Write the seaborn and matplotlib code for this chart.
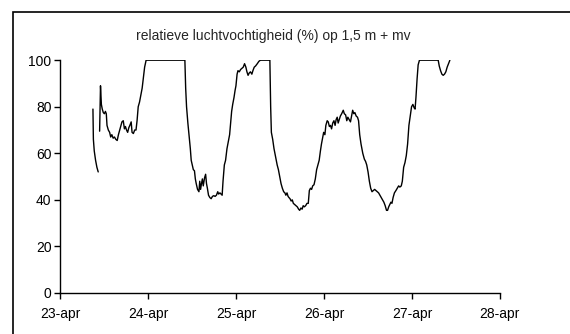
import numpy as np
import pandas as pd
import matplotlib
matplotlib.use("Agg")
import matplotlib.pyplot as plt
import matplotlib.patches as mpatches
import seaborn as sns

# Relative humidity (%) at 1.5 m above ground level.
# Time is given in days since 23 April 00:00.
seg1_days = [0.370, 0.375, 0.385, 0.400, 0.415, 0.430]
seg1_rh = [79, 66, 61, 57, 54, 52]

seg2_days = [
    0.446, 0.456, 0.466, 0.476, 0.488, 0.500, 0.512, 0.522, 0.530, 0.545,
    0.560, 0.572, 0.585, 0.600, 0.615, 0.630, 0.646, 0.660, 0.675, 0.690,
    0.700, 0.715, 0.728, 0.740, 0.752, 0.765, 0.778, 0.790, 0.805, 0.815,
    0.830, 0.845, 0.860, 0.872, 0.885, 0.900, 0.915, 0.930, 0.945, 0.958,
    0.975, 1.416, 1.425, 1.435, 1.450, 1.465, 1.478, 1.488, 1.500, 1.512,
    1.525, 1.535, 1.545, 1.560, 1.576, 1.585, 1.595, 1.605, 1.615, 1.625,
    1.640, 1.652, 1.662, 1.672, 1.685, 1.700, 1.715, 1.730, 1.745, 1.760,
    1.775, 1.790, 1.800, 1.815, 1.828, 1.840, 1.850, 1.865, 1.879, 1.895,
    1.910, 1.925, 1.948, 1.960, 1.975, 1.987, 1.997, 2.010, 2.020, 2.035,
    2.050, 2.065, 2.080, 2.095, 2.110, 2.122, 2.135, 2.148, 2.162, 2.178,
    2.190, 2.205, 2.220, 2.240, 2.258, 2.275, 2.296, 2.383, 2.392, 2.400,
    2.415, 2.430, 2.445, 2.466, 2.480, 2.495, 2.510, 2.525, 2.540, 2.554,
    2.565, 2.578, 2.590, 2.600, 2.612, 2.625, 2.638, 2.650, 2.665, 2.680,
    2.695, 2.710, 2.722, 2.736, 2.750, 2.762, 2.775, 2.790, 2.805, 2.820,
    2.832, 2.845, 2.858, 2.870, 2.885, 2.900, 2.915, 2.930, 2.944, 2.958,
    2.970, 2.985, 2.995, 3.009, 3.020, 3.035, 3.047, 3.060, 3.072, 3.085,
    3.098, 3.112, 3.125, 3.137, 3.149, 3.160, 3.172, 3.185, 3.200, 3.218,
    3.230, 3.245, 3.258, 3.270, 3.285, 3.300, 3.312, 3.325, 3.338, 3.350,
    3.365, 3.380, 3.392, 3.405, 3.420, 3.440, 3.458, 3.472, 3.485, 3.500,
    3.515, 3.530, 3.545, 3.560, 3.575, 3.590, 3.605, 3.620, 3.635, 3.650,
    3.665, 3.680, 3.695, 3.710, 3.722, 3.735, 3.748, 3.760, 3.772, 3.785,
    3.800, 3.817, 3.832, 3.848, 3.862, 3.878, 3.890, 3.905, 3.920, 3.935,
    3.950, 3.965, 3.980, 3.995, 4.010, 4.025, 4.035, 4.045, 4.058, 4.070,
    4.085, 4.298, 4.310, 4.325, 4.340, 4.355, 4.370, 4.385, 4.400, 4.415,
    4.431,
]
seg2_rh = [
    69.5, 89, 81, 79, 77.5, 77, 78, 77, 72, 70,
    69, 67, 68, 66.5, 67, 66, 65.5, 68, 70, 72,
    73.5, 74, 70.5, 71.5, 70, 69, 71, 72, 73.5, 69,
    68.5, 70, 70, 74, 80, 82, 85, 88, 93, 97,
    100, 100, 88, 80, 73, 67, 62, 57, 55, 53,
    52.5, 49, 47, 44.5, 43.5, 48, 44.5, 47, 49, 46,
    49.5, 51, 47, 45, 42, 41, 40.5, 41.5, 41.8, 41.5,
    42, 43.5, 42.5, 43, 42.5, 42, 48, 55, 57, 62,
    65, 68, 78, 81, 84, 87, 89, 94, 95.5, 95,
    96, 96.5, 97, 98.5, 97, 95, 93.5, 94.5, 95, 94,
    95.5, 97, 97.5, 98.5, 99.5, 100, 100, 100, 80, 69,
    66, 62, 59, 55, 53, 50, 47, 45, 43.5, 43,
    42, 43, 41.5, 41, 40.5, 39.5, 40, 38.5, 38, 37.5,
    37, 36, 35.5, 36.5, 36, 37.5, 37, 37.5, 38.5, 38.5,
    44, 45, 44.5, 46, 46.5, 49, 53, 55, 57, 61,
    64, 67, 69, 68, 72, 74, 73.5, 71.5, 72, 70.5,
    73, 74, 72, 74.5, 75.5, 73, 74.5, 76, 77, 78.5,
    77, 76.5, 74, 75.5, 74.5, 73.5, 76, 78.5, 77, 77.5,
    76, 75.5, 74, 68, 64, 60, 57.5, 56.5, 55, 52,
    48, 45, 43.5, 44, 44.5, 44, 43.5, 43, 42, 41,
    40, 39, 37.5, 35.5, 35.5, 37, 38, 39, 38.5, 41,
    43, 44, 45, 46, 45.5, 46, 48, 54, 56, 59,
    64, 72, 76, 80, 81, 79.5, 79, 84, 92, 98,
    100, 100, 97.5, 95.5, 94, 93.5, 94, 95, 97, 98.5,
    100,
]

day_ticks = [0, 1, 2, 3, 4, 5]
day_labels = ["23-apr", "24-apr", "25-apr", "26-apr", "27-apr", "28-apr"]
y_ticks = [0, 20, 40, 60, 80, 100]
title = "relatieve luchtvochtigheid (%) op 1,5 m + mv"

start = pd.Timestamp("2004-04-23")
df = pd.DataFrame({
    "tijd": start + pd.to_timedelta(np.r_[seg1_days, seg2_days], unit="D"),
    "rh": np.r_[seg1_rh, seg2_rh],
    "reeks": [1] * len(seg1_days) + [2] * len(seg2_days),
})

sns.set_style("ticks")
plt.rcParams["font.family"] = ["Liberation Sans", "DejaVu Sans"]

fig = plt.figure(figsize=(5.7, 3.34), dpi=100)
ax = fig.add_axes([0.106, 0.1228, 0.771, 0.697])

sns.lineplot(data=df, x="tijd", y="rh", units="reeks", estimator=None,
             color="black", lw=1.0, ax=ax)

tick_dates = [start + pd.Timedelta(days=d) for d in day_ticks]
ax.set_xlim(tick_dates[0], tick_dates[-1])
ax.set_xticks(tick_dates)
ax.set_xticklabels(day_labels)
ax.set_ylim(0, 100)
ax.set_yticks(y_ticks)
ax.set_xlabel("")
ax.set_ylabel("")
ax.tick_params(axis="both", labelsize=10, length=4, width=1, color="black",
               direction="out", labelcolor="black")
ax.tick_params(axis="x", pad=6)
ax.tick_params(axis="y", pad=2.5)
for side in ("top", "right"):
    ax.spines[side].set_visible(False)
for side in ("left", "bottom"):
    ax.spines[side].set_color("black")
    ax.spines[side].set_linewidth(1)

fig.text(0.480, 0.893, title, ha="center", va="center", fontsize=10)

# Chart-area frame, open past the right and bottom edges
frame = mpatches.Rectangle((0.0228, -0.05), 1.1, 1.014, transform=fig.transFigure,
                           fill=False, ec="black", lw=1.2)
fig.patches.append(frame)

fig.savefig("out.png", dpi=100, facecolor="white")
